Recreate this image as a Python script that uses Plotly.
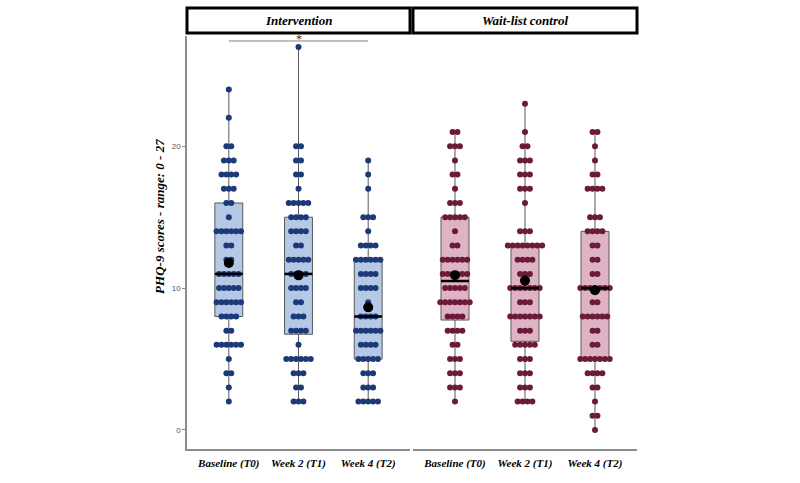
import numpy as np
import plotly.graph_objects as go

# ---------------- data ----------------
timepoints = ["Baseline (T0)", "Week 2 (T1)", "Week 4 (T2)"]
panels = ["Intervention", "Wait-list control"]

# PHQ-9 score -> number of participants with that score
int_t0 = {24: 1, 22: 1, 20: 2, 19: 3, 18: 4, 17: 3, 16: 2, 15: 1, 14: 6, 13: 2, 12: 2,
          11: 5, 10: 5, 9: 6, 8: 4, 7: 2, 6: 6, 5: 1, 4: 2, 3: 1, 2: 1}
int_t1 = {27: 1, 20: 2, 19: 2, 18: 2, 17: 1, 16: 5, 15: 4, 14: 4, 13: 2, 12: 5, 11: 4,
          10: 4, 9: 2, 8: 3, 7: 4, 6: 1, 5: 6, 4: 3, 3: 2, 2: 3}
int_t2 = {19: 1, 18: 1, 17: 1, 15: 3, 14: 1, 13: 4, 12: 6, 11: 4, 10: 4, 9: 1, 8: 4,
          7: 6, 6: 4, 5: 5, 4: 3, 3: 3, 2: 5}
wl_t0 = {21: 2, 20: 3, 19: 1, 18: 2, 17: 1, 16: 3, 15: 5, 14: 1, 13: 2, 12: 6, 11: 6,
         10: 5, 9: 7, 8: 4, 7: 4, 6: 2, 5: 3, 4: 3, 3: 3, 2: 1}
wl_t1 = {23: 1, 21: 1, 20: 2, 19: 3, 18: 3, 17: 3, 16: 1, 14: 3, 13: 8, 12: 4, 11: 3,
         10: 7, 9: 3, 8: 7, 7: 3, 6: 5, 5: 3, 4: 3, 3: 3, 2: 4}
wl_t2 = {21: 2, 20: 1, 19: 1, 18: 2, 17: 4, 15: 3, 14: 4, 13: 2, 12: 2, 11: 2, 10: 7,
         9: 2, 8: 6, 7: 2, 6: 2, 5: 7, 4: 4, 3: 2, 2: 1, 1: 2, 0: 1}

panel_groups = [[int_t0, int_t1, int_t2], [wl_t0, wl_t1, wl_t2]]

y_ticks = [0, 10, 20]
y_title = "PHQ-9 scores - range: 0 - 27"
sig_label = "*"

# ---------------- styling ----------------
serif = "Liberation Serif"
dot_colors = ["#1c3a78", "#6b1a3a"]
box_fills = ["rgba(150,176,220,0.70)", "rgba(205,140,165,0.65)"]
box_line = "#5a5a5a"
axis_grey = "#8c8c8c"
box_width = 0.4
dot_step = 0.07
dot_size = 6

fig = go.Figure()

xaxes = ["x", "x2"]

for p, groups in enumerate(panel_groups):
    xa = xaxes[p]
    for i, counts in enumerate(groups):
        vals = np.repeat(list(counts.keys()), list(counts.values())).astype(float)
        q1, med, q3 = np.percentile(vals, [25, 50, 75])
        iqr = q3 - q1
        lo = vals[vals >= q1 - 1.5 * iqr].min()
        hi = vals[vals <= q3 + 1.5 * iqr].max()
        mean = vals.mean()
        # box
        fig.add_trace(go.Box(
            x=[i], q1=[q1], median=[med], q3=[q3], lowerfence=[lo], upperfence=[hi],
            width=box_width, fillcolor=box_fills[p],
            line=dict(color=box_line, width=1), whiskerwidth=0,
            boxpoints=False, xaxis=xa, yaxis="y", showlegend=False, hoverinfo="skip"))
        # dots (centred dot-plot stacking)
        xs, ys = [], []
        for v, n in counts.items():
            for k in range(n):
                xs.append(i + (k - (n - 1) / 2) * dot_step)
                ys.append(v)
        fig.add_trace(go.Scatter(
            x=xs, y=ys, mode="markers", xaxis=xa, yaxis="y",
            marker=dict(size=dot_size, color=dot_colors[p], line=dict(width=0)),
            showlegend=False, hoverinfo="skip"))
        # median line
        fig.add_trace(go.Scatter(
            x=[i - box_width / 2, i + box_width / 2], y=[med, med], mode="lines",
            line=dict(color="black", width=2.5), xaxis=xa, yaxis="y",
            showlegend=False, hoverinfo="skip"))
        # mean
        fig.add_trace(go.Scatter(
            x=[i], y=[mean], mode="markers", xaxis=xa, yaxis="y",
            marker=dict(size=10, color="black"), showlegend=False, hoverinfo="skip"))

# significance bracket (Intervention baseline vs week 4)
sig_y = max(max(g) for g in panel_groups[0]) + 0.42
fig.add_trace(go.Scatter(
    x=[0, 2], y=[sig_y, sig_y], mode="lines", line=dict(color="#808080", width=1),
    xaxis="x", yaxis="y", showlegend=False, hoverinfo="skip"))

# strips
domains = [[0.0, 0.4956], [0.5022, 1.0]]
for p, name in enumerate(panels):
    d = domains[p]
    fig.add_shape(type="rect", xref="paper", yref="paper", x0=d[0], x1=d[1],
                  y0=1.0073, y1=1.0678, line=dict(color="black", width=3),
                  fillcolor="white", layer="below")
    fig.add_annotation(xref="paper", yref="paper", x=(d[0] + d[1]) / 2, y=1.0375,
                       xanchor="center", yanchor="middle",
                       text="<b><i>%s</i></b>" % name, showarrow=False,
                       font=dict(family=serif, size=13, color="black"))

fig.add_annotation(x=1, y=sig_y, xref="x", yref="y", text=sig_label, showarrow=False,
                   yanchor="middle", yshift=2, font=dict(family=serif, size=12, color="#333"))

# y-axis title
fig.add_annotation(xref="paper", yref="paper", x=-0.06, y=0.562, textangle=-90,
                   xanchor="center", yanchor="middle", showarrow=False,
                   text="<b><i>%s</i></b>" % y_title,
                   font=dict(family=serif, size=13, color="black"))

xaxis_common = dict(
    range=[-0.6, 2.6], tickvals=[0, 1, 2],
    ticktext=["<b><i>%s</i></b>" % t for t in timepoints],
    tickfont=dict(family=serif, size=11, color="black"),
    showline=True, linecolor=axis_grey, linewidth=1.5,
    ticks="outside", ticklen=3, tickcolor="rgba(0,0,0,0)",
    showgrid=False, zeroline=False, anchor="y")

fig.update_layout(
    width=800, height=483,
    margin=dict(l=187, r=163, t=36, b=34),
    paper_bgcolor="white", plot_bgcolor="white",
    xaxis=dict(domain=domains[0], **xaxis_common),
    xaxis2=dict(domain=domains[1], **xaxis_common),
    yaxis=dict(range=[-1.34, 27.77], tickvals=y_ticks,
               tickfont=dict(family="Liberation Sans", size=8, color="#555555"),
               ticks="outside", ticklen=3, tickcolor=axis_grey,
               showline=True, linecolor=axis_grey, linewidth=1.5,
               showgrid=False, zeroline=False),
)

fig.write_html("out.html", config={"displayModeBar": False},
               post_script="document.body.style.margin='0px';")
